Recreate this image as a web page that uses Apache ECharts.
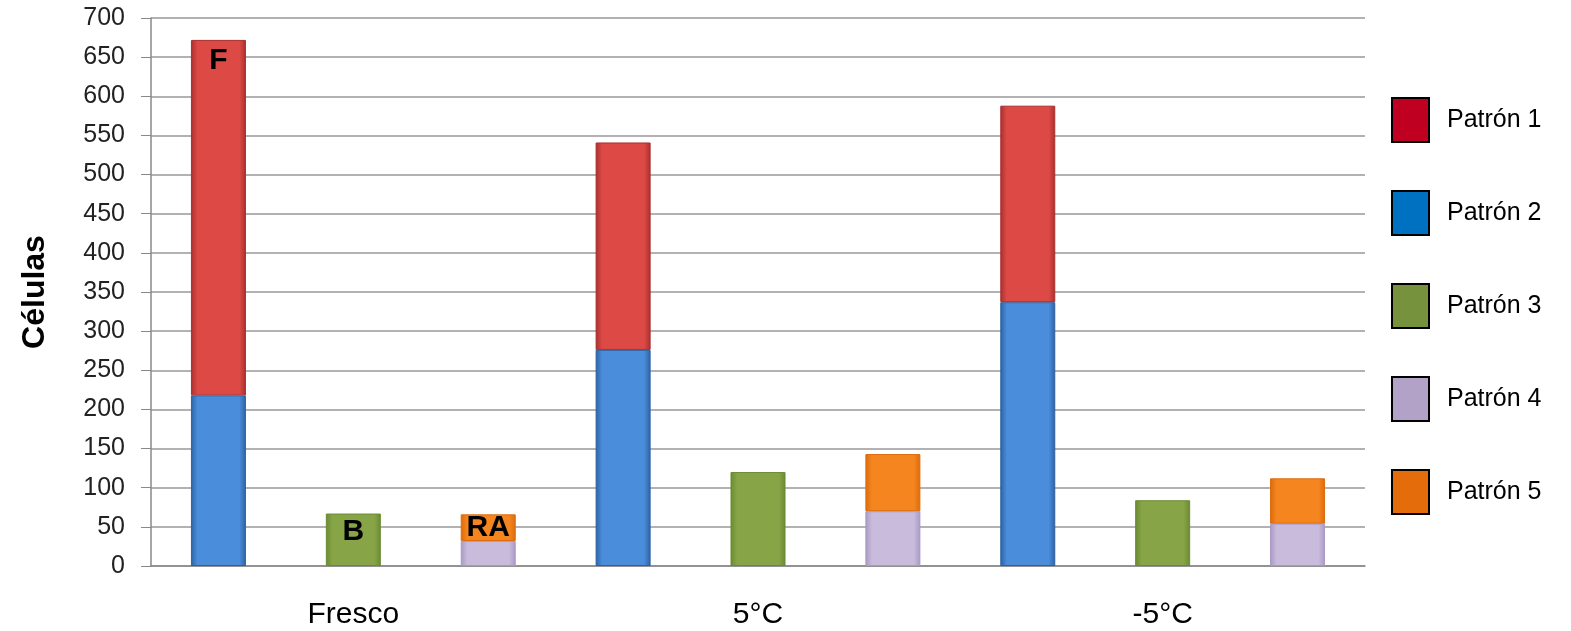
<!DOCTYPE html>
<html>
<head>
<meta charset="utf-8">
<script src="https://cdn.jsdelivr.net/npm/echarts@6/dist/echarts.min.js"></script>
<style>
html,body{margin:0;padding:0;background:#fff;}
#chart{width:1571px;height:631px;}
</style>
</head>
<body>
<div id="chart"></div>
<script>
// ---- data ----
var groups = ['Fresco', '5°C', '-5°C'];
var subTypes = ['F', 'B', 'RA'];
var categories = [];
groups.forEach(function (g) { subTypes.forEach(function (s) { categories.push(g + '|' + s); }); });

var seriesNames = ['Patrón 1', 'Patrón 2', 'Patrón 3', 'Patrón 4', 'Patrón 5'];
var patron1 = [454, null, null, 265, null, null, 251, null, null];
var patron2 = [218, null, null, 276, null, null, 337, null, null];
var patron3 = [null, 67, null, null, 120, null, null, 84, null];
var patron4 = [null, null, 32, null, null, 70, null, null, 54];
var patron5 = [null, null, 34, null, null, 73, null, null, 58];
var yTicks = [0, 50, 100, 150, 200, 250, 300, 350, 400, 450, 500, 550, 600, 650, 700];
var barTags = [ { series: 'Patrón 1', index: 0, text: 'F' },
                { series: 'Patrón 3', index: 1, text: 'B' },
                { series: 'Patrón 5', index: 2, text: 'RA' } ];

// ---- styles ----
var barColors = {
  'Patrón 1': ['#dd4a46', '#a92f2d'],
  'Patrón 2': ['#4a8ddb', '#2d62a2'],
  'Patrón 3': ['#87a546', '#6a8a33'],
  'Patrón 4': ['#c8bbdc', '#a898c4'],
  'Patrón 5': ['#f5861f', '#dc6a0c']
};
var legendColors = {
  'Patrón 1': '#c00020',
  'Patrón 2': '#0070c0',
  'Patrón 3': '#76923c',
  'Patrón 4': '#b3a2c7',
  'Patrón 5': '#e46c0a'
};
var tagDistance = { 'F': 6, 'B': 3, 'RA': -2 };
var dataMap = { 'Patrón 1': patron1, 'Patrón 2': patron2, 'Patrón 3': patron3, 'Patrón 4': patron4, 'Patrón 5': patron5 };
var stackOrder = ['Patrón 2', 'Patrón 1', 'Patrón 3', 'Patrón 4', 'Patrón 5'];

function grad(c) {
  return new echarts.graphic.LinearGradient(0, 0, 1, 0, [
    { offset: 0, color: c[1] }, { offset: 0.12, color: c[0] },
    { offset: 0.88, color: c[0] }, { offset: 1, color: c[1] }
  ]);
}

var series = stackOrder.map(function (name) {
  var vals = dataMap[name].map(function (v, i) {
    var tag = barTags.filter(function (t) { return t.series === name && t.index === i; })[0];
    if (tag && v != null) {
      return { value: v, label: { show: true, formatter: tag.text,
        position: 'insideTop', distance: tagDistance[tag.text],
        fontFamily: 'Liberation Sans', fontWeight: 'bold', fontSize: 30, color: '#000' } };
    }
    return v;
  });
  return {
    name: name, type: 'bar', stack: 'total', barWidth: 55,
    data: vals,
    itemStyle: { color: grad(barColors[name]), borderColor: barColors[name][1], borderWidth: 1 }
  };
});

var chart = echarts.init(document.getElementById('chart'), null, { renderer: 'canvas' });
chart.setOption({
  animation: false,
  backgroundColor: '#fff',
  grid: { left: 151, right: 206, top: 18, bottom: 65 },
  legend: {
    orient: 'vertical', left: 1391, top: 97, padding: 0,
    itemWidth: 37, itemHeight: 44, itemGap: 47,
    icon: 'rect',
    textStyle: { fontFamily: 'Liberation Sans', fontSize: 25, color: '#000', padding: [0, 0, 10, 13] },
    data: seriesNames.map(function (n) {
      return { name: n, itemStyle: { color: legendColors[n], borderColor: '#000', borderWidth: 2 } };
    })
  },
  xAxis: {
    type: 'category', data: categories,
    axisLine: { lineStyle: { color: '#888', width: 1.5 } },
    axisTick: { show: false },
    axisLabel: {
      interval: 0, margin: 34,
      fontFamily: 'Liberation Sans', fontSize: 30, color: '#000',
      formatter: function (v) { var p = v.split('|'); return p[1] === 'B' ? p[0] : ''; }
    }
  },
  yAxis: {
    type: 'value', min: yTicks[0], max: yTicks[yTicks.length - 1], interval: 50,
    name: 'Células', nameLocation: 'middle', nameGap: 100, nameRotate: 90,
    nameTextStyle: { fontFamily: 'Liberation Sans', fontWeight: 'bold', fontSize: 32, color: '#000' },
    axisLine: { show: true, lineStyle: { color: '#888', width: 1.5 } },
    axisTick: { show: true, length: 10, lineStyle: { color: '#888' } },
    axisLabel: { margin: 26, fontFamily: 'Liberation Sans', fontSize: 25, color: '#222' },
    splitLine: { lineStyle: { color: '#999', width: 1.5 } }
  },
  series: series
});
</script>
</body>
</html>
